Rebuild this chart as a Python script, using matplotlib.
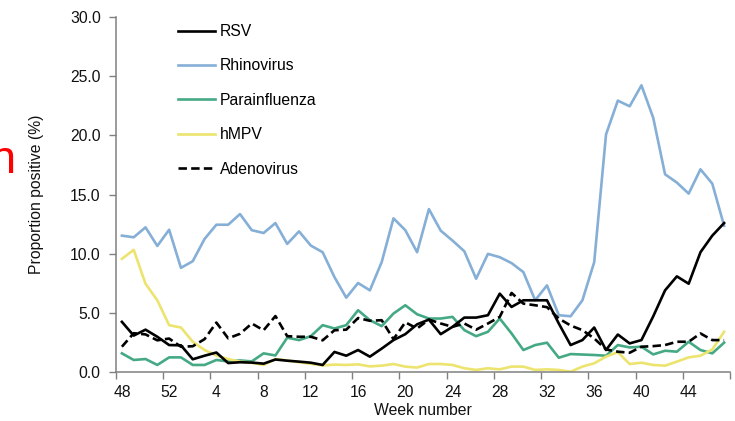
import matplotlib
matplotlib.use("Agg")
import matplotlib.pyplot as plt
from matplotlib.ticker import FixedLocator, FuncFormatter
from matplotlib.lines import Line2D

plt.rcParams['font.family'] = ['Liberation Sans', 'DejaVu Sans']

weeks = [48, 49, 50, 51, 52] + list(range(1, 48))
tick_weeks = [48, 52, 4, 8, 12, 16, 20, 24, 28, 32, 36, 40, 44]

rsv = [4.26, 3.1, 3.6, 3.0, 2.3, 2.28, 1.1, 1.4, 1.67, 0.78,
       0.85, 0.82, 0.73, 1.08, 0.98, 0.9, 0.81, 0.62, 1.72, 1.4,
       1.88, 1.32, 2.0, 2.72, 3.22, 4.05, 4.45, 3.22, 3.84, 4.62,
       4.62, 4.82, 6.64, 5.52, 6.08, 6.08, 6.08, 4.12, 2.3, 2.72,
       3.78, 1.88, 3.19, 2.44, 2.72, 4.73, 6.92, 8.1, 7.48, 10.14,
       11.54, 12.6]
rhinovirus = [11.54, 11.4, 12.24, 10.67, 12.04, 8.82, 9.38, 11.26, 12.46, 12.46,
              13.36, 12.0, 11.76, 12.6, 10.84, 11.9, 10.7, 10.14, 8.04, 6.3,
              7.54, 6.92, 9.3, 13.0, 12.0, 10.14, 13.78, 11.96, 11.12, 10.22,
              7.9, 10.0, 9.72, 9.22, 8.46, 6.08, 7.34, 4.82, 4.73, 6.08,
              9.3, 20.08, 22.94, 22.46, 24.23, 21.48, 16.72, 16.02, 15.09, 17.14,
              15.93, 12.38]
parainfluenza = [1.6, 1.04, 1.12, 0.62, 1.26, 1.26, 0.62, 0.62, 1.04, 0.92,
                 1.0, 0.92, 1.6, 1.42, 2.92, 2.72, 3.05, 3.98, 3.7, 3.98,
                 5.24, 4.4, 3.9, 4.96, 5.66, 4.9, 4.54, 4.54, 4.68, 3.56,
                 3.05, 3.42, 4.54, 3.28, 1.88, 2.3, 2.5, 1.23, 1.54, 1.5,
                 1.46, 1.4, 2.3, 2.1, 2.16, 1.51, 1.82, 1.74, 2.58, 1.88,
                 1.6, 2.5]
hmpv = [9.58, 10.34, 7.48, 6.08, 3.98, 3.78, 2.58, 1.88, 1.42, 1.12,
        0.9, 0.8, 0.62, 1.12, 1.0, 0.85, 0.72, 0.58, 0.65, 0.62,
        0.67, 0.5, 0.56, 0.7, 0.48, 0.4, 0.7, 0.7, 0.62, 0.34,
        0.2, 0.34, 0.25, 0.48, 0.48, 0.2, 0.25, 0.2, 0.05, 0.48,
        0.76, 1.32, 1.7, 0.7, 0.81, 0.62, 0.56, 0.9, 1.26, 1.4,
        1.93, 3.42]
adenovirus = [2.16, 3.3, 3.2, 2.7, 2.85, 2.16, 2.2, 2.8, 4.2, 2.87,
              3.25, 4.12, 3.55, 4.75, 3.05, 3.0, 3.0, 2.7, 3.55, 3.6,
              4.58, 4.35, 4.4, 2.8, 4.22, 3.7, 4.45, 4.12, 3.84, 4.12,
              3.6, 4.12, 4.68, 6.7, 5.8, 5.66, 5.5, 4.54, 3.95, 3.56,
              2.86, 1.93, 1.74, 1.65, 2.16, 2.21, 2.3, 2.58, 2.58, 3.28,
              2.72, 2.72]

W, H = 735, 421
fig = plt.figure(figsize=(W / 100, H / 100), dpi=100)
left, right, bottom, top = 116, 730, 372.3, 17
ax = fig.add_axes([left / W, (H - bottom) / H, (right - left) / W, (bottom - top) / H])

x = list(range(len(weeks)))
c_rhino = '#85afd6'
c_para = '#45a984'
c_hmpv = '#ece46e'

ax.plot(x, rhinovirus, color=c_rhino, lw=1.9)
ax.plot(x, parainfluenza, color=c_para, lw=1.9)
ax.plot(x, hmpv, color=c_hmpv, lw=1.9)
ax.plot(x, adenovirus, color='black', lw=1.9, ls=(0, (3.2, 1.6)))
ax.plot(x, rsv, color='black', lw=1.9)

ax.set_xlim(-0.5, len(weeks) - 0.5)
ax.set_ylim(0, 30)

# category boundaries as tick marks, labels at category centers
ax.xaxis.set_major_locator(FixedLocator([-0.5 + 4 * k for k in range(14)]))
ax.xaxis.set_major_formatter(FuncFormatter(lambda v, p: ''))
label_pos = [weeks.index(w) for w in tick_weeks]
ax.xaxis.set_minor_locator(FixedLocator(label_pos))
ax.xaxis.set_minor_formatter(FuncFormatter(lambda v, p: str(weeks[int(round(v))])))
ax.tick_params(axis='x', which='major', length=5, width=1, color='#808080', direction='out')
ax.tick_params(axis='x', which='minor', length=0, pad=9.5, labelsize=11.3, labelcolor='#111111')

ax.set_yticks([0, 5, 10, 15, 20, 25, 30])
ax.yaxis.set_major_formatter(FuncFormatter(lambda v, p: f"{v:.1f}"))
ax.tick_params(axis='y', length=5, width=1, color='#808080', direction='out', pad=6,
               labelsize=11.3, labelcolor='#111111')

for s in ['top', 'right']:
    ax.spines[s].set_visible(False)
for s in ['left', 'bottom']:
    ax.spines[s].set_color('#808080')
    ax.spines[s].set_linewidth(1.1)

ax.set_xlabel('Week number', fontsize=11.3, color='#111111')
ax.xaxis.set_label_coords(0.5, -0.087)
ax.set_ylabel('Proportion positive (%)', fontsize=11.3, color='#111111')
ax.yaxis.set_label_coords((44 - left) / (right - left), 0.5)

handles = [Line2D([], [], color='black', lw=1.9),
           Line2D([], [], color=c_rhino, lw=1.9),
           Line2D([], [], color=c_para, lw=1.9),
           Line2D([], [], color=c_hmpv, lw=1.9),
           Line2D([], [], color='black', lw=1.9, ls=(0, (3.2, 1.6)))]
labels = ['RSV', 'Rhinovirus', 'Parainfluenza', 'hMPV', 'Adenovirus']
fig.legend(handles, labels, loc='upper left', bbox_to_anchor=(178 / W, (H - 24) / H),
           frameon=False, fontsize=11.3, handlelength=2.36, handletextpad=0.3,
           labelspacing=1.24, borderpad=0, borderaxespad=0)

fig.text(16 / W, (H - 173) / H, 'n', ha='right', va='baseline', fontsize=34, color='#ff0000')

fig.savefig('out.png', dpi=100)
